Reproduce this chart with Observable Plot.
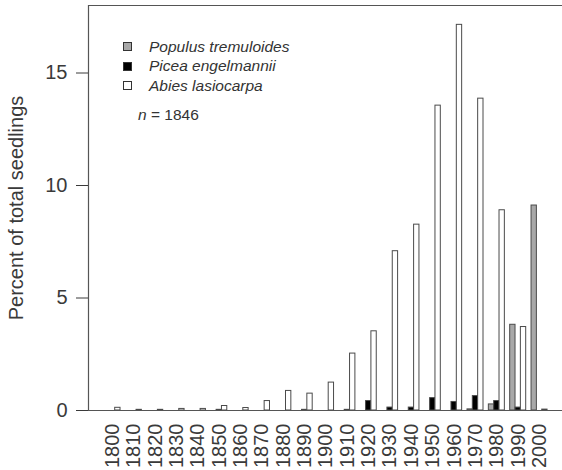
<!DOCTYPE html>
<html><head><meta charset="utf-8">
<script src="https://cdn.jsdelivr.net/npm/d3@7"></script>
<script src="https://cdn.jsdelivr.net/npm/@observablehq/plot@0.6"></script>
<style>
body{margin:0;background:#fff;font-family:"Liberation Sans",Arial,sans-serif;}
#wrap{position:relative;width:562px;height:470px;}
#legend{position:absolute;left:123px;top:36.75px;font-size:15.5px;color:#333;font-style:italic;}
.row{display:flex;align-items:center;height:19.5px;white-space:nowrap;}
.sw{width:7px;height:7px;border:1px solid #333;margin-right:17px;box-sizing:content-box;}
#n{position:absolute;left:138px;top:105px;font-size:15.5px;color:#333;line-height:19px;}
</style></head>
<body><div id="wrap"></div>
<script>
const decades = [1800,1810,1820,1830,1840,1850,1860,1870,1880,1890,1900,1910,1920,1930,1940,1950,1960,1970,1980,1990,2000];
const populus = [0,0,0,0,0,0,0,0,0,0,0,0,0,0,0,0,0,0.05,0.27,3.81,9.11];
const picea   = [0,0,0,0,0,0.03,0,0,0,0.03,0,0.03,0.42,0.13,0.13,0.55,0.38,0.64,0.42,0.13,0];
const abies   = [0.12,0.03,0.03,0.07,0.07,0.2,0.11,0.42,0.87,0.75,1.24,2.53,3.52,7.08,8.26,13.55,17.14,13.86,8.9,3.71,0.04];
const species = ["Populus tremuloides","Picea engelmannii","Abies lasiocarpa"];
const fills = ["#a8a8a8","#000000","#ffffff"];
const yTicks = [0,5,10,15];

const series = [populus, picea, abies];
const rows = decades.flatMap((d,i) => series.map((arr,s) => ({decade:d, i, s, value:arr[i]})));
const xDomain = [-2, 86.8];
const tickVals = decades.map((d,i) => i*4 + 2.5);

const plot = Plot.plot({
  width: 562, height: 470,
  marginLeft: 88, marginRight: 0, marginTop: 5, marginBottom: 60,
  style: {fontSize: "20px", fontFamily: "'Liberation Sans', Arial, sans-serif", color: "#3a3a3a", background: "#fff"},
  x: {type: "linear", domain: xDomain},
  y: {domain: [0, 18]},
  color: {domain: species, range: fills},
  marks: [
    Plot.rect(rows, {x1: r => r.i*4 + 1 + r.s, x2: r => r.i*4 + 2 + r.s, y1: 0, y2: "value",
      fill: r => species[r.s], stroke: "#4a4a4a", strokeWidth: 1}),
    Plot.ruleY([0, 18], {stroke: "#555", strokeWidth: 1.2}),
    Plot.ruleX([xDomain[0]], {stroke: "#555", strokeWidth: 1.2}),
    Plot.axisY({ticks: yTicks, tickSize: 12, tickPadding: 9, label: "Percent of total seedlings", labelAnchor: "center", labelOffset: 80, labelArrow: "none"}),
    Plot.axisX({ticks: tickVals, tickFormat: v => String(decades[Math.round((v-2.5)/4)]), tickSize: 0, tickPadding: 13, tickRotate: -90, label: null})
  ]
});
const wrap = document.getElementById("wrap");
wrap.appendChild(plot);
const leg = document.createElement("div");
leg.id = "legend";
species.forEach((s,k) => {
  const r = document.createElement("div"); r.className = "row";
  const sw = document.createElement("span"); sw.className = "sw"; sw.style.background = fills[k];
  const t = document.createElement("span"); t.textContent = s;
  r.appendChild(sw); r.appendChild(t); leg.appendChild(r);
});
wrap.appendChild(leg);
const n = document.createElement("div"); n.id = "n";
n.innerHTML = "<i>n</i> = 1846";
wrap.appendChild(n);
</script></body></html>
